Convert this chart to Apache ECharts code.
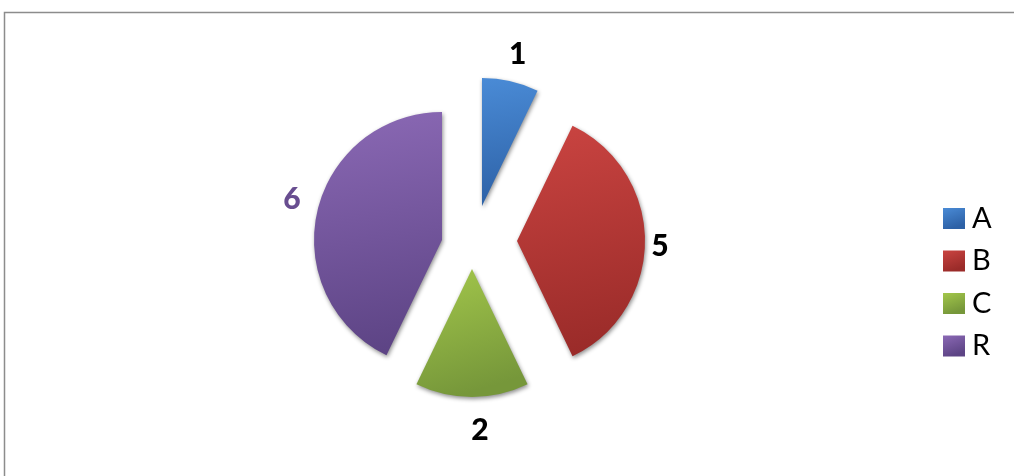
<!DOCTYPE html>
<html>
<head>
<meta charset="utf-8">
<script src="https://cdn.jsdelivr.net/npm/echarts@6/dist/echarts.min.js"></script>
<style>
  html, body { margin: 0; padding: 0; background: #ffffff; }
  #chart { width: 1014px; height: 476px; }
</style>
</head>
<body>
<div id="chart"></div>
<script>
// Category names and their values
const categories = ['A', 'B', 'C', 'R'];
const values = [1, 5, 2, 6];

// Per-slice styling: gradient stops (top, bottom) and value label colour
const sliceColors = [
  ['#4a8bd6', '#2d61a6'],
  ['#ca4441', '#9a2b29'],
  ['#a3c74b', '#76973a'],
  ['#8b69b5', '#5d4485']
];
const labelColors = ['#000000', '#000000', '#000000', '#684d90'];

// Exploded layout: each slice drawn by its own pie series with its own centre
const sliceLayout = [
  { center: [482, 206], labelDist: 156, labelShift: [1, 0] },
  { center: [517, 241], labelDist: 143, labelShift: [0, 5] },
  { center: [472, 269], labelDist: 161, labelShift: [8, 0] },
  { center: [442, 240], labelDist: 154, labelShift: [0, -6] }
];
const pieRadius = 128;
const startAngle = 90;

const total = values.reduce((a, b) => a + b, 0);

function gradient(stops) {
  return new echarts.graphic.LinearGradient(0, 0, 0.35, 1, [
    { offset: 0, color: stops[0] },
    { offset: 1, color: stops[1] }
  ]);
}

function midAngle(i) {
  let cum = 0;
  for (let k = 0; k < i; k++) cum += values[k];
  return (startAngle - (cum + values[i] / 2) / total * 360) * Math.PI / 180;
}

const series = categories.map((cat, i) => {
  const lay = sliceLayout[i];
  const a = midAngle(i);
  const lx = lay.center[0] + lay.labelDist * Math.cos(a) + lay.labelShift[0];
  const ly = lay.center[1] - lay.labelDist * Math.sin(a) + lay.labelShift[1];
  return {
    type: 'pie',
    center: lay.center,
    radius: [0, pieRadius],
    startAngle: startAngle,
    clockwise: true,
    avoidLabelOverlap: false,
    animation: false,
    emphasis: { disabled: true },
    labelLine: { show: false },
    labelLayout: function () {
      return { x: lx, y: ly, align: 'center', verticalAlign: 'middle' };
    },
    data: values.map((v, j) => {
      if (j === i) {
        return {
          name: cat,
          value: v,
          itemStyle: {
            color: gradient(sliceColors[j]),
            shadowColor: 'rgba(0,0,0,0.45)',
            shadowBlur: 4,
            shadowOffsetX: 1,
            shadowOffsetY: 2
          },
          label: {
            show: true,
            position: 'outside',
            formatter: '{c}',
            color: labelColors[j],
            fontFamily: 'Lato, "Open Sans", sans-serif',
            fontWeight: 900,
            fontSize: 30
          }
        };
      }
      return {
        name: '',
        value: v,
        itemStyle: { color: 'rgba(0,0,0,0)', borderWidth: 0 },
        label: { show: false },
        tooltip: { show: false }
      };
    })
  };
});

const chart = echarts.init(document.getElementById('chart'), null, { renderer: 'canvas' });
chart.setOption({
  backgroundColor: '#ffffff',
  animation: false,
  legend: {
    data: categories,
    orient: 'vertical',
    left: 943,
    top: 204,
    padding: 0,
    icon: 'rect',
    itemWidth: 22,
    itemHeight: 21,
    itemGap: 13.5,
    textStyle: {
      color: '#000000',
      fontFamily: 'Lato, "Open Sans", sans-serif',
      fontSize: 29,
      padding: [0, 0, 0, 2]
    }
  },
  graphic: [{
    type: 'rect',
    silent: true,
    z: -1,
    shape: { x: 4.5, y: 12.5, width: 1100, height: 500 },
    style: { fill: 'none', stroke: '#8c8c8c', lineWidth: 1.5 }
  }],
  series: series
});
</script>
</body>
</html>
